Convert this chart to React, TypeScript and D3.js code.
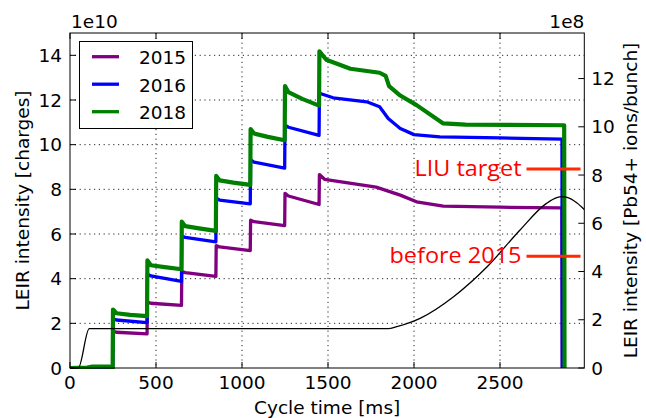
import React from 'react';
import * as d3 from 'd3';

// ---- data ----
const xTicks = [0, 500, 1000, 1500, 2000, 2500];
const leftTicks = [0, 2, 4, 6, 8, 10, 12, 14];
const rightTicks = [0, 2, 4, 6, 8, 10, 12];
const years = ['2015', '2016', '2018'];

// [cycle time ms, intensity 1e10 charges]
const s2015: [number, number][] = [
  [0, 0], [248, 0], [250, 1.65], [270, 1.6], [448, 1.53], [450, 2.95], [470, 2.9], [648, 2.8],
  [650, 4.32], [670, 4.27], [848, 4.1], [850, 5.48], [870, 5.42], [1048, 5.26], [1050, 6.62],
  [1070, 6.55], [1248, 6.38], [1250, 7.82], [1270, 7.7], [1448, 7.32], [1450, 8.66], [1480, 8.45],
  [1780, 8.1], [1920, 7.74], [2015, 7.44], [2170, 7.25], [2500, 7.2], [2860, 7.17], [2862, 0],
];
const s2016: [number, number][] = [
  [0, 0], [248, 0], [250, 2.2], [270, 2.15], [448, 2.03], [450, 4.2], [470, 4.12], [648, 3.88],
  [650, 5.9], [670, 5.85], [848, 5.65], [850, 7.6], [870, 7.52], [1048, 7.35], [1050, 9.32],
  [1070, 9.22], [1248, 8.95], [1250, 10.87], [1270, 10.78], [1448, 10.42], [1450, 12.3],
  [1530, 12.1], [1725, 11.92], [1800, 11.7], [1850, 11.17], [1920, 10.72], [2000, 10.45],
  [2150, 10.35], [2500, 10.3], [2860, 10.25], [2862, 0],
];
const s2018: [number, number][] = [
  [0, 0], [100, 0.02], [130, 0.06], [230, 0.06], [248, 0], [250, 2.62], [270, 2.45], [350, 2.38],
  [448, 2.32], [450, 4.82], [470, 4.6], [550, 4.52], [648, 4.42], [650, 6.55], [670, 6.35],
  [750, 6.25], [848, 6.14], [850, 8.6], [870, 8.4], [950, 8.3], [1048, 8.2], [1050, 10.7],
  [1070, 10.5], [1150, 10.35], [1248, 10.2], [1250, 12.62], [1270, 12.35], [1350, 12.05],
  [1448, 11.75], [1450, 14.18], [1490, 13.8], [1630, 13.4], [1800, 13.22], [1835, 13.08],
  [1855, 12.62], [1920, 12.2], [2015, 11.77], [2170, 10.95], [2300, 10.9], [2873, 10.87], [2875, 0],
];
const seriesData = [s2015, s2016, s2018];
const seriesColors = ['#800080', '#0000ff', '#008000'];
const seriesWidths = [3.3, 3.3, 4.2];

// black reference curve (drawn in left-axis units)
const cycleCurve: [number, number][] = [
  [0, 0], [48, 0], [112, 1.76], [1850, 1.76], [1900, 1.85], [2035, 2.22], [2230, 3.19],
  [2425, 4.53], [2615, 6.17], [2770, 7.37], [2830, 7.63], [2860, 7.67], [2890, 7.64],
  [2946, 7.4], [2990, 7.1],
];

// reference levels on the right axis (1e8 ions/bunch)
const refLabels = ['LIU target', 'before 2015'];
const refValues = [8.25, 4.63];
const refTextWidths = [107, 132];

// ---- layout ----
const W = 646;
const H = 418;
const L = 70;
const R = 584.3;
const T = 33;
const B = 368;
const FONT = 'DejaVu Sans, sans-serif';
const FS = 18.5;

export default function App() {
  const x = d3.scaleLinear().domain([0, 2990]).range([L, R]);
  const yL = d3.scaleLinear().domain([0, 15]).range([B, T]);
  const yR = d3.scaleLinear().domain([0, 15 / 1.08]).range([B, T]);

  const line = d3
    .line<[number, number]>()
    .x((d) => x(d[0]))
    .y((d) => yL(d[1]));
  const smooth = d3
    .line<[number, number]>()
    .x((d) => x(d[0]))
    .y((d) => yL(d[1]))
    .curve(d3.curveMonotoneX);

  const tickLen = 6;
  const grid = { stroke: '#000', strokeWidth: 1, strokeDasharray: '1.2,3.6', opacity: 0.85 };

  return (
    <svg
      width={W}
      height={H}
      style={{ position: 'absolute', left: 0, top: 0, background: '#fff' }}
      fontFamily={FONT}
    >
      <rect x={0} y={0} width={W} height={H} fill="#fff" />
      {/* grid */}
      {xTicks.filter((t) => t > 0).map((t) => (
        <line key={'gx' + t} x1={x(t)} x2={x(t)} y1={T} y2={B} {...grid} />
      ))}
      {leftTicks.filter((t) => t > 0).map((t) => (
        <line key={'gy' + t} x1={L} x2={R} y1={yL(t)} y2={yL(t)} {...grid} />
      ))}

      {/* series */}
      <g clipPath="url(#clip)">
        <clipPath id="clip">
          <rect x={L} y={T} width={R - L} height={B - T + 1} />
        </clipPath>
        {seriesData.map((s, i) => (
          <path
            key={years[i]}
            d={line(s) || ''}
            fill="none"
            stroke={seriesColors[i]}
            strokeWidth={seriesWidths[i]}
            strokeLinejoin="round"
          />
        ))}
        <path d={smooth(cycleCurve) || ''} fill="none" stroke="#000" strokeWidth={1.3} />
      </g>

      {/* reference levels */}
      {refValues.map((v, i) => (
        <g key={refLabels[i]}>
          <line x1={x(2654)} x2={x(2968)} y1={yR(v)} y2={yR(v)} stroke="#ff2a00" strokeWidth={3} />
          <text
            x={x(2654) - 5}
            y={yR(v) + 7}
            textAnchor="end"
            fill="#ff0000"
            fontFamily="Open Sans, sans-serif"
            fontSize={21}
            textLength={refTextWidths[i]}
            lengthAdjust="spacingAndGlyphs"
          >
            {refLabels[i]}
          </text>
        </g>
      ))}

      {/* frame */}
      <rect x={L} y={T} width={R - L} height={B - T} fill="none" stroke="#000" strokeWidth={1} />

      {/* x ticks */}
      {xTicks.map((t) => (
        <g key={'xt' + t}>
          <line x1={x(t)} x2={x(t)} y1={B} y2={B - tickLen} stroke="#000" />
          <line x1={x(t)} x2={x(t)} y1={T} y2={T + tickLen} stroke="#000" />
          <text x={x(t)} y={389} textAnchor="middle" fontSize={FS} fill="#000">
            {t}
          </text>
        </g>
      ))}
      {/* left ticks */}
      {leftTicks.map((t) => (
        <g key={'yl' + t}>
          <line x1={L} x2={L + tickLen} y1={yL(t)} y2={yL(t)} stroke="#000" />
          <text x={L - 8} y={yL(t) + 6.5} textAnchor="end" fontSize={FS} fill="#000">
            {t}
          </text>
        </g>
      ))}
      {/* right ticks */}
      {rightTicks.map((t) => (
        <g key={'yr' + t}>
          <line x1={R} x2={R - tickLen} y1={yR(t)} y2={yR(t)} stroke="#000" />
          <text x={R + 7} y={yR(t) + 6.5} textAnchor="start" fontSize={FS} fill="#000">
            {t}
          </text>
        </g>
      ))}

      {/* offsets */}
      <text x={L + 1} y={28} fontSize={FS} fill="#000">1e10</text>
      <text x={R} y={28} textAnchor="end" fontSize={FS} fill="#000">1e8</text>

      {/* axis labels */}
      <text x={(L + R) / 2} y={414} textAnchor="middle" fontSize={FS} fill="#000">
        Cycle time [ms]
      </text>
      <text
        transform={`translate(29,${(T + B) / 2}) rotate(-90)`}
        textAnchor="middle"
        fontSize={FS}
        fill="#000"
      >
        LEIR intensity [charges]
      </text>
      <text
        transform={`translate(636.5,${(T + B) / 2}) rotate(-90)`}
        textAnchor="middle"
        fontSize={FS}
        fill="#000"
      >
        LEIR intensity [Pb54+ ions/bunch]
      </text>

      {/* legend */}
      <rect x={79.5} y={41.5} width={113} height={87} fill="#fff" stroke="#000" strokeWidth={1} />
      {years.map((yr, i) => (
        <g key={'lg' + yr}>
          <line
            x1={92}
            x2={119}
            y1={56.7 + i * 27.5}
            y2={56.7 + i * 27.5}
            stroke={seriesColors[i]}
            strokeWidth={3.3}
          />
          <text x={139} y={64 + i * 27.5} fontSize={FS} fill="#000">
            {yr}
          </text>
        </g>
      ))}
    </svg>
  );
}
